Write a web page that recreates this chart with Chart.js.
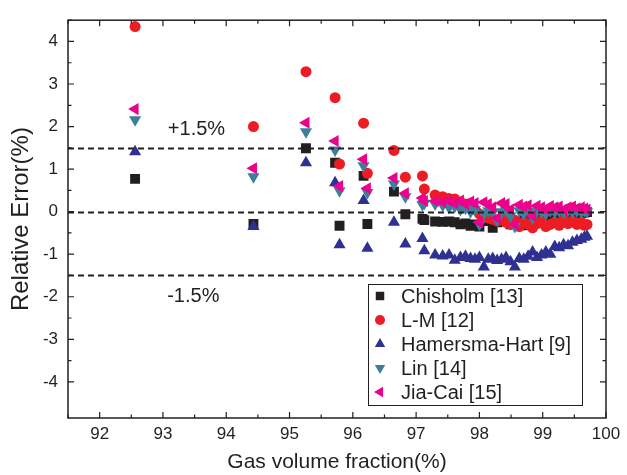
<!DOCTYPE html>
<html>
<head>
<meta charset="utf-8">
<script src="https://cdn.jsdelivr.net/npm/chart.js"></script>
<style>
  html, body { margin: 0; padding: 0; background: #fff; }
  canvas { display: block; }
</style>
</head>
<body>
<canvas id="chart" width="627" height="475"></canvas>
<script>
// gas volume fraction (%) of each test point, shared by all correlations
const gvf = [92.56, 94.43, 95.26, 95.72, 95.79, 96.17, 96.23, 96.65, 96.83, 97.10, 97.13,
  97.30, 97.42, 97.52, 97.61, 97.70, 97.78, 97.86, 97.93, 98.00, 98.07, 98.14, 98.21,
  98.28, 98.35, 98.42, 98.49, 98.56, 98.63, 98.70, 98.77, 98.84, 98.91, 98.98, 99.05,
  99.12, 99.19, 99.26, 99.33, 99.40, 99.47, 99.54, 99.61, 99.66, 99.70];

const chisholm = [0.77, -0.29, 1.49, 1.15, -0.33, 0.84, -0.29, 0.47, -0.06, -0.17, -0.20,
  -0.23, -0.24, -0.23, -0.25, -0.30, -0.28, -0.33, -0.30, -0.35, -0.22, -0.20, -0.38,
  -0.25, -0.20, -0.22, -0.30, -0.24, -0.28, -0.20, -0.32, -0.25, -0.18, -0.22, -0.15,
  -0.12, -0.10, -0.08, -0.10, -0.06, -0.05, -0.04, -0.03, -0.02, -0.01];

const lm = [4.35, 2.00, 3.29, 2.68, 1.12, 2.08, 0.90, 1.44, 0.81, 0.84, 0.53,
  0.39, 0.35, 0.31, 0.30, 0.22, 0.18, 0.12, 0.05, -0.05, -0.10, -0.15, -0.18,
  -0.22, -0.15, -0.25, -0.30, -0.20, -0.35, -0.25, -0.30, -0.38, -0.28, -0.22, -0.35,
  -0.30, -0.25, -0.32, -0.20, -0.28, -0.22, -0.30, -0.25, -0.32, -0.30];

const hamersma = [1.41, -0.35, 1.15, 0.68, -0.78, 0.26, -0.86, -0.25, -0.76, -0.63, -0.92,
  -1.02, -1.04, -1.02, -1.14, -1.08, -1.05, -1.10, -1.12, -1.08, -1.30, -1.12, -1.10,
  -1.15, -1.12, -1.08, -1.18, -1.30, -1.10, -1.12, -1.05, -0.95, -1.08, -1.02, -0.95,
  -1.00, -0.82, -0.85, -0.78, -0.80, -0.72, -0.68, -0.65, -0.60, -0.58];

const lin = [2.16, 0.82, 1.88, 1.45, 0.49, 1.08, 0.45, 0.65, 0.35, 0.16, 0.20,
  0.18, 0.15, 0.10, 0.12, 0.05, 0.08, 0.00, 0.05, -0.30, -0.05, 0.02, -0.02,
  -0.20, 0.00, 0.03, -0.10, -0.35, 0.02, -0.05, 0.00, -0.15, 0.02, 0.00, -0.05,
  0.03, 0.00, 0.02, -0.02, 0.03, 0.00, 0.02, 0.00, 0.02, 0.00];

const jiaCai = [2.41, 1.02, 2.09, 1.66, 0.60, 1.23, 0.55, 0.79, 0.43, 0.32, 0.25,
  0.25, 0.22, 0.25, 0.20, 0.26, 0.18, 0.24, 0.20, -0.25, 0.22, 0.18, 0.10,
  -0.15, 0.20, 0.18, 0.05, -0.30, 0.16, 0.12, 0.15, -0.10, 0.14, 0.10, 0.05,
  0.13, 0.10, 0.12, 0.05, 0.10, 0.12, 0.08, 0.10, 0.07, 0.05];

const refLines = [1.5, 0, -1.5];
const FONT = '"Liberation Sans", Arial, Helvetica, sans-serif';
const INK = '#231f20';

const pts = arr => gvf.map((x, i) => ({ x: x, y: arr[i] }));

const series = [
  { label: 'Chisholm [13]', data: pts(chisholm), pointStyle: 'rect', pointRadius: 7, pointRotation: 0,
    backgroundColor: '#231f20', order: 5 },
  { label: 'L-M [12]', data: pts(lm), pointStyle: 'circle', pointRadius: 5.5, pointRotation: 0,
    backgroundColor: '#ed1c24', order: 4 },
  { label: 'Hamersma-Hart [9]', data: pts(hamersma), pointStyle: 'triangle', pointRadius: 7, pointRotation: 0,
    backgroundColor: '#2e3192', order: 3 },
  { label: 'Lin [14]', data: pts(lin), pointStyle: 'triangle', pointRadius: 7, pointRotation: 180,
    backgroundColor: '#3c7f9b', order: 2 },
  { label: 'Jia-Cai [15]', data: pts(jiaCai), pointStyle: 'triangle', pointRadius: 7, pointRotation: 270,
    backgroundColor: '#ec008c', order: 1 }
];
series.forEach(s => { s.pointBorderWidth = 0; s.pointHoverRadius = s.pointRadius; s.showLine = false; });

// keep only half-unit ticks, label only the whole ones
const halfTicks = scale => {
  scale.ticks = scale.ticks.filter(t => Math.abs(t.value * 2 - Math.round(t.value * 2)) < 1e-6);
};
const isWhole = v => Math.abs(v - Math.round(v)) < 1e-6;
const intLabel = v => (isWhole(v) ? String(Math.round(v)) : '');

const framePlugin = {
  id: 'frame',
  afterDraw(chart) {
    const { ctx, chartArea: a, scales: { x, y } } = chart;
    ctx.save();

    // dashed reference lines
    ctx.strokeStyle = INK;
    ctx.lineWidth = 2;
    ctx.setLineDash([6, 4]);
    refLines.forEach(v => {
      const py = Math.round(y.getPixelForValue(v)) + 0.5;
      ctx.beginPath();
      ctx.moveTo(a.left, py);
      ctx.lineTo(a.right, py);
      ctx.stroke();
    });
    ctx.setLineDash([]);

    // box and inward ticks on all sides
    ctx.lineWidth = 1.5;
    ctx.strokeRect(a.left, a.top, a.right - a.left, a.bottom - a.top);
    ctx.lineWidth = 1.2;
    y.ticks.forEach(t => {
      const py = y.getPixelForValue(t.value);
      const len = isWhole(t.value) ? 6 : 3.5;
      ctx.beginPath();
      ctx.moveTo(a.left, py); ctx.lineTo(a.left + len, py);
      ctx.moveTo(a.right, py); ctx.lineTo(a.right - len, py);
      ctx.stroke();
    });
    x.ticks.forEach(t => {
      const px = x.getPixelForValue(t.value);
      const len = isWhole(t.value) ? 6 : 3.5;
      ctx.beginPath();
      ctx.moveTo(px, a.bottom); ctx.lineTo(px, a.bottom - len);
      ctx.moveTo(px, a.top); ctx.lineTo(px, a.top + len);
      ctx.stroke();
    });

    // annotations
    ctx.fillStyle = INK;
    ctx.font = '20px ' + FONT;
    ctx.textAlign = 'center';
    ctx.textBaseline = 'middle';
    ctx.fillText('+1.5%', x.getPixelForValue(93.53), y.getPixelForValue(1.92));
    ctx.fillText('-1.5%', x.getPixelForValue(93.48), y.getPixelForValue(-2.0));

    // legend box
    const lx = 368, ly = 284, lw = 214, lh = 121, row = 24;
    ctx.fillStyle = '#fff';
    ctx.fillRect(lx, ly, lw, lh);
    ctx.strokeStyle = INK;
    ctx.lineWidth = 1;
    ctx.strokeRect(lx + 0.5, ly + 0.5, lw, lh);
    ctx.textAlign = 'left';
    series.forEach((s, i) => {
      const cy = ly + 12 + i * row;
      ctx.fillStyle = s.backgroundColor;
      Chart.helpers.drawPoint(ctx, {
        pointStyle: s.pointStyle,
        radius: s.pointStyle === 'circle' ? 5 : 6,
        rotation: s.pointRotation,
        borderWidth: 0
      }, 380, cy);
      ctx.fillStyle = INK;
      ctx.fillText(s.label, 401, cy + 1);
    });
    ctx.restore();
  }
};

new Chart(document.getElementById('chart'), {
  type: 'scatter',
  data: { datasets: series },
  options: {
    responsive: false,
    animation: false,
    events: [],
    layout: { padding: { left: 0, top: 19, right: 21, bottom: 0 } },
    plugins: { legend: { display: false }, tooltip: { enabled: false } },
    scales: {
      x: {
        type: 'linear',
        min: 91.5,
        max: 100,
        afterFit: s => { s.height = 57; },
        afterBuildTicks: halfTicks,
        grid: { display: false, drawTicks: false },
        border: { display: false },
        ticks: {
          stepSize: 0.5,
          autoSkip: false,
          maxRotation: 0,
          padding: 6,
          color: INK,
          font: { family: FONT, size: 17 },
          callback: v => intLabel(v)
        },
        title: {
          display: true,
          text: 'Gas volume fraction(%)',
          color: INK,
          font: { family: FONT, size: 21 },
          padding: { top: 0, bottom: 0 }
        }
      },
      y: {
        type: 'linear',
        min: -4.85,
        max: 4.5,
        afterFit: s => { s.width = 68; },
        afterBuildTicks: halfTicks,
        grid: { display: false, drawTicks: false },
        border: { display: false },
        ticks: {
          stepSize: 0.5,
          autoSkip: false,
          padding: 10,
          color: INK,
          font: { family: FONT, size: 17 },
          callback: v => intLabel(v)
        },
        title: {
          display: true,
          text: 'Relative Error(%)',
          color: INK,
          font: { family: FONT, size: 24 },
          padding: { top: 7, bottom: 0 }
        }
      }
    }
  },
  plugins: [framePlugin]
});
</script>
</body>
</html>
